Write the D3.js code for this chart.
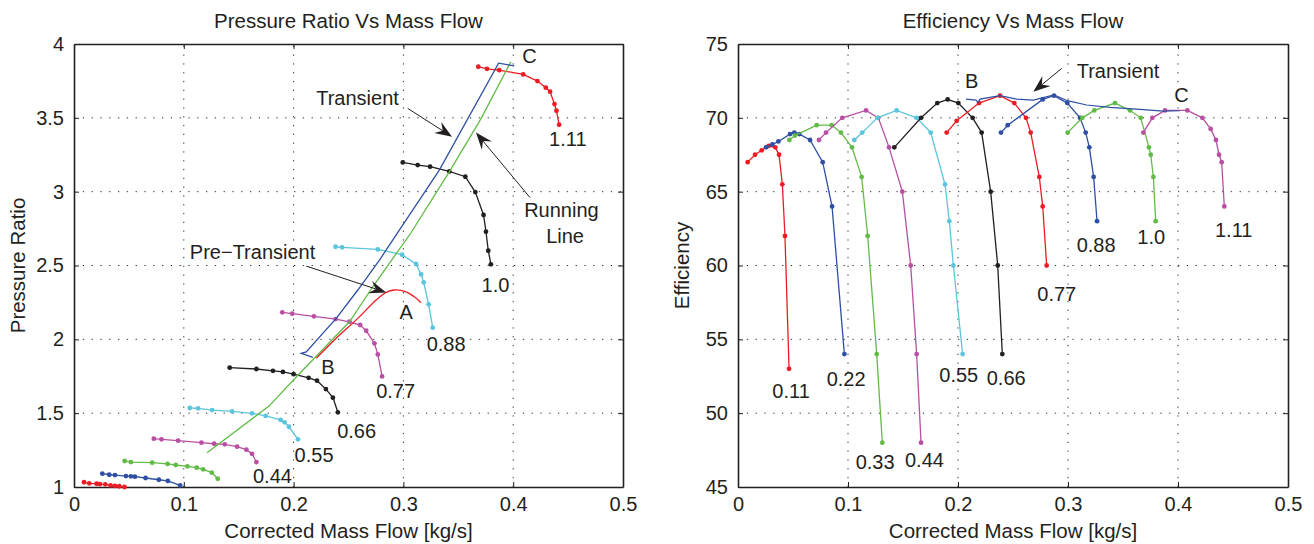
<!DOCTYPE html>
<html>
<head>
<meta charset="utf-8">
<script src="https://cdn.jsdelivr.net/npm/d3@7"></script>
<style>
  body { margin: 0; background: #fff; }
  text { font-family: "Liberation Sans", Arial, Helvetica, sans-serif; fill: #231f20; }
</style>
</head>
<body>
<div id="chart"></div>
<script>
// axis ticks
const massTicks = [0, 0.1, 0.2, 0.3, 0.4, 0.5];
const prTicks = [1, 1.5, 2, 2.5, 3, 3.5, 4];
const effTicks = [45, 50, 55, 60, 65, 70, 75];
const speedLabels = ["0.11", "0.22", "0.33", "0.44", "0.55", "0.66", "0.77", "0.88", "1.0", "1.11"];

// pressure ratio speed lines [mass flow, pressure ratio]
const pr011 = [[0.0091,1.032],[0.0139,1.025],[0.0206,1.022],[0.0236,1.02],[0.0285,1.018],[0.0333,1.011],[0.0373,1.007],[0.0412,1.005],[0.046,1.0]];
const pr022 = [[0.0258,1.09],[0.0321,1.083],[0.0373,1.081],[0.0473,1.074],[0.0518,1.072],[0.0555,1.07],[0.0652,1.061],[0.0773,1.049],[0.0855,1.041],[0.0967,1.011]];
const pr033 = [[0.0461,1.176],[0.0518,1.169],[0.0712,1.165],[0.0852,1.156],[0.0927,1.149],[0.1033,1.14],[0.1118,1.131],[0.1176,1.12],[0.1255,1.097],[0.1309,1.056]];
const pr044 = [[0.0727,1.327],[0.0797,1.323],[0.0948,1.314],[0.1161,1.3],[0.1276,1.293],[0.1373,1.289],[0.1485,1.273],[0.157,1.253],[0.1621,1.225],[0.1661,1.169]];
const pr055 = [[0.1055,1.535],[0.113,1.533],[0.1258,1.521],[0.1439,1.512],[0.1621,1.499],[0.1745,1.481],[0.1882,1.454],[0.1918,1.438],[0.1958,1.408],[0.204,1.323]];
const pr066 = [[0.1418,1.808],[0.1661,1.799],[0.1812,1.787],[0.1903,1.779],[0.2,1.764],[0.2137,1.739],[0.2213,1.72],[0.2294,1.663],[0.2358,1.605],[0.2403,1.506]];
const pr077 = [[0.1897,2.183],[0.1988,2.174],[0.2185,2.156],[0.2382,2.137],[0.2509,2.119],[0.2606,2.097],[0.2661,2.058],[0.2736,1.973],[0.2767,1.898],[0.2806,1.749]];
const pr088 = [[0.2382,2.627],[0.2442,2.623],[0.2767,2.609],[0.2988,2.573],[0.3115,2.51],[0.3161,2.44],[0.3185,2.386],[0.323,2.237],[0.3267,2.079]];
const pr100 = [[0.2994,3.198],[0.313,3.18],[0.3243,3.169],[0.3418,3.137],[0.3564,3.101],[0.3655,2.997],[0.373,2.842],[0.3752,2.729],[0.3773,2.6],[0.3797,2.508]];
const pr111 = [[0.3682,3.846],[0.3761,3.832],[0.3873,3.823],[0.4091,3.794],[0.4221,3.749],[0.4297,3.704],[0.4336,3.677],[0.4376,3.593],[0.4394,3.548],[0.4418,3.453]];

const prRunningLine = [[0.1212,1.232],[0.1776,1.548],[0.2033,1.752],[0.2509,2.119],[0.2721,2.356],[0.3068,2.72],[0.3418,3.134],[0.3711,3.5],[0.3979,3.88]];
const prTransient = [[0.2176,1.878],[0.207,1.905],[0.2115,1.915],[0.2388,2.142],[0.2585,2.334],[0.2782,2.537],[0.3327,3.146],[0.3867,3.87],[0.401,3.852]];
const prPreTransient = [[0.2206,1.871],[0.2388,2.007],[0.2585,2.142],[0.2752,2.266],[0.2842,2.318],[0.2918,2.334],[0.3024,2.322],[0.31,2.288],[0.316,2.248]];

// efficiency speed lines [mass flow, efficiency]
const ef011 = [[0.0088,67.0],[0.0155,67.5],[0.0215,67.8],[0.0279,68.1],[0.0339,68.0],[0.0373,67.5],[0.0403,65.5],[0.0427,62.0],[0.0464,53.0]];
const ef022 = [[0.0255,68.0],[0.0312,68.2],[0.0367,68.4],[0.0473,68.9],[0.0512,69.0],[0.0558,68.9],[0.0655,68.5],[0.077,67.0],[0.0855,64.0],[0.0967,54.0]];
const ef033 = [[0.0467,68.5],[0.0518,68.8],[0.0715,69.5],[0.0852,69.5],[0.0936,69.0],[0.1036,68.0],[0.1124,66.0],[0.1179,62.0],[0.1261,54.0],[0.1312,48.0]];
const ef044 = [[0.0736,68.5],[0.08,69.0],[0.0948,70.0],[0.1164,70.5],[0.1276,70.0],[0.1373,68.0],[0.1494,65.0],[0.157,60.0],[0.1624,54.0],[0.1664,48.0]];
const ef055 = [[0.1058,68.5],[0.113,69.0],[0.1267,70.0],[0.1442,70.5],[0.1624,70.0],[0.1752,69.0],[0.1882,65.5],[0.1921,63.0],[0.1958,60.0],[0.2042,54.0]];
const ef066 = [[0.1421,68.0],[0.1664,70.0],[0.1812,71.0],[0.1906,71.25],[0.2003,71.0],[0.2133,70.0],[0.2215,69.0],[0.2297,65.0],[0.2361,60.0],[0.2403,54.0]];
const ef077 = [[0.1897,69.0],[0.1988,69.8],[0.2191,71.0],[0.2382,71.5],[0.2512,71.0],[0.2618,70.0],[0.2661,69.0],[0.2739,66.0],[0.277,64.0],[0.2806,60.0]];
const ef088 = [[0.2391,69.0],[0.2452,69.5],[0.277,71.25],[0.2873,71.5],[0.2994,71.0],[0.3109,70.0],[0.3161,69.0],[0.3194,68.0],[0.3233,66.0],[0.3264,63.0]];
const ef100 = [[0.2997,69.0],[0.313,70.0],[0.3239,70.5],[0.3427,71.0],[0.3564,70.5],[0.3661,70.0],[0.3736,68.0],[0.3752,67.5],[0.3776,66.0],[0.3797,63.0]];
const ef111 = [[0.3685,69.0],[0.3767,70.0],[0.3882,70.5],[0.4085,70.5],[0.4221,70.0],[0.4297,69.25],[0.4345,68.5],[0.4373,67.5],[0.4397,67.0],[0.4421,64.0]];

const efTransient = [[0.2073,71.27],[0.2164,71.2],[0.2182,71.05],[0.22,71.27],[0.2382,71.5],[0.2533,71.27],[0.2685,71.2],[0.2873,71.55],[0.2994,71.16],[0.317,70.87],[0.3382,70.71],[0.3655,70.57],[0.3867,70.46],[0.4018,70.48]];

// speed label positions [mass flow, value]
const prLabelPos = [null, null, null, [0.163,1.025],[0.2009,1.171],[0.2397,1.33],[0.2752,1.6],[0.3212,1.923],[0.3712,2.318],[0.4327,3.309]];
const efLabelPos = [[0.0312,51.0],[0.0806,51.84],[0.107,46.2],[0.1518,46.33],[0.183,52.13],[0.2261,51.91],[0.2721,57.62],[0.3079,60.89],[0.363,61.46],[0.4336,61.91]];

const col = { red: "#ec1c24", blue: "#2e4fa3", green: "#62bb47", magenta: "#b84fa3", cyan: "#5bc5dc", black: "#231f20" };
const prColors = [col.red, col.blue, col.green, col.magenta, col.cyan, col.black, col.magenta, col.cyan, col.black, col.red];
const efColors = [col.red, col.blue, col.green, col.magenta, col.cyan, col.black, col.red, col.blue, col.green, col.magenta];

const prLines = [pr011, pr022, pr033, pr044, pr055, pr066, pr077, pr088, pr100, pr111];
const efLines = [ef011, ef022, ef033, ef044, ef055, ef066, ef077, ef088, ef100, ef111];

const width = 1314, height = 544;
const svg = d3.select("#chart").append("svg")
  .attr("width", width).attr("height", height);

function arrow(g, x1, y1, x2, y2) {
  const a = Math.atan2(y2 - y1, x2 - x1);
  const len = 17, half = 6.5, notch = 11;
  const pt = (d, o) => [x2 - d * Math.cos(a) - o * Math.sin(a), y2 - d * Math.sin(a) + o * Math.cos(a)];
  g.append("line")
    .attr("x1", x1).attr("y1", y1)
    .attr("x2", pt(notch, 0)[0]).attr("y2", pt(notch, 0)[1])
    .attr("stroke", "#231f20").attr("stroke-width", 1);
  g.append("path")
    .attr("d", "M" + [[x2, y2], pt(len, half), pt(notch, 0), pt(len, -half)].join("L") + "Z")
    .attr("fill", "#231f20");
}

function panel(opt) {
  const g = svg.append("g");
  const x = d3.scaleLinear().domain([0, 0.5]).range([opt.left, opt.right]);
  const y = d3.scaleLinear().domain(opt.yDomain).range([487, 44]);

  // dotted grid
  g.append("g").selectAll("line").data(massTicks.slice(1, -1)).enter().append("line")
    .attr("x1", d => x(d)).attr("x2", d => x(d)).attr("y1", y.range()[0]).attr("y2", y.range()[1])
    .attr("stroke", "#333").attr("stroke-width", 1).attr("stroke-dasharray", "1.3,7.5");
  g.append("g").selectAll("line").data(opt.yTicks.slice(1, -1)).enter().append("line")
    .attr("y1", d => y(d)).attr("y2", d => y(d)).attr("x1", opt.left).attr("x2", opt.right)
    .attr("stroke", "#333").attr("stroke-width", 1).attr("stroke-dasharray", "1.3,7.5");

  // axes with inward ticks on all four sides
  const ax = [
    g.append("g").attr("transform", `translate(0,487)`).call(d3.axisBottom(x).tickValues(massTicks).tickSizeInner(-5).tickSizeOuter(0).tickPadding(10).tickFormat(d => d === 0 ? "0" : d3.format(".1f")(d))),
    g.append("g").attr("transform", `translate(0,44)`).call(d3.axisTop(x).tickValues(massTicks).tickSizeInner(-5).tickSizeOuter(0).tickFormat("")),
    g.append("g").attr("transform", `translate(${opt.left},0)`).call(d3.axisLeft(y).tickValues(opt.yTicks).tickSizeInner(-5).tickSizeOuter(0).tickPadding(10).tickFormat(opt.yFormat)),
    g.append("g").attr("transform", `translate(${opt.right},0)`).call(d3.axisRight(y).tickValues(opt.yTicks).tickSizeInner(-5).tickSizeOuter(0).tickFormat(""))
  ];
  ax.forEach(a => {
    a.select(".domain").attr("stroke", "#231f20").attr("stroke-width", 1.6);
    a.selectAll(".tick line").attr("stroke", "#231f20").attr("stroke-width", 1);
    a.selectAll(".tick text").attr("font-size", 20).attr("fill", "#231f20")
      .style("font-family", '"Liberation Sans", Arial, sans-serif');
  });

  const line = d3.line().x(d => x(d[0])).y(d => y(d[1]));

  // speed lines with markers
  opt.lines.forEach((pts, i) => {
    g.append("path").datum(pts).attr("d", line)
      .attr("fill", "none").attr("stroke", opt.colors[i]).attr("stroke-width", 1.3);
    g.append("g").selectAll("circle").data(pts).enter().append("circle")
      .attr("cx", d => x(d[0])).attr("cy", d => y(d[1])).attr("r", 2.4)
      .attr("fill", opt.colors[i]);
    const p = opt.labelPos[i];
    if (p) g.append("text").attr("x", x(p[0])).attr("y", y(p[1])).attr("font-size", 20).text(speedLabels[i]);
  });

  opt.extra(g, x, y, line);

  // titles
  g.append("text").attr("x", (opt.left + opt.right) / 2).attr("y", 28)
    .attr("text-anchor", "middle").attr("font-size", 20.5).text(opt.title);
  g.append("text").attr("x", (opt.left + opt.right) / 2).attr("y", 538)
    .attr("text-anchor", "middle").attr("font-size", 20.5).text("Corrected Mass Flow [kg/s]");
  g.append("text").attr("transform", `translate(${opt.left - 49},${(44 + 487) / 2}) rotate(-90)`)
    .attr("text-anchor", "middle").attr("font-size", 20.5).text(opt.yLabel);
}

panel({
  left: 74, right: 623, yDomain: [1, 4], yTicks: prTicks,
  yFormat: d => String(d), title: "Pressure Ratio Vs Mass Flow", yLabel: "Pressure Ratio",
  lines: prLines, colors: prColors, labelPos: prLabelPos,
  extra: (g, x, y, line) => {
    g.append("path").datum(prRunningLine).attr("d", line)
      .attr("fill", "none").attr("stroke", col.green).attr("stroke-width", 1.3);
    g.append("path").datum(prTransient).attr("d", line)
      .attr("fill", "none").attr("stroke", col.blue).attr("stroke-width", 1.3);
    g.append("path").datum(prPreTransient).attr("d", line.curve(d3.curveCatmullRom))
      .attr("fill", "none").attr("stroke", col.red).attr("stroke-width", 1.3);
    line.curve(d3.curveLinear);
    const t = (s, p) => g.append("text").attr("x", x(p[0])).attr("y", y(p[1])).attr("font-size", 20).text(s);
    t("Transient", [0.2206, 3.586]);
    arrow(g, x(0.3039), y(3.564), x(0.3443), y(3.372));
    t("Running", [0.4100, 2.83]);
    t("Line", [0.4300, 2.655]);
    arrow(g, x(0.4153), y(2.96), x(0.3661), y(3.4));
    t("Pre\u2212Transient", [0.1055, 2.544]);
    arrow(g, x(0.2115), y(2.496), x(0.2843), y(2.318));
    t("A", [0.2964, 2.135]);
    t("B", [0.2252, 1.763]);
    t("C", [0.4082, 3.871]);
  }
});

panel({
  left: 738, right: 1288, yDomain: [45, 75], yTicks: effTicks,
  yFormat: d => String(d), title: "Efficiency Vs Mass Flow", yLabel: "Efficiency",
  lines: efLines, colors: efColors, labelPos: efLabelPos,
  extra: (g, x, y, line) => {
    g.append("path").datum(efTransient).attr("d", line)
      .attr("fill", "none").attr("stroke", col.blue).attr("stroke-width", 1.2);
    const t = (s, p) => g.append("text").attr("x", x(p[0])).attr("y", y(p[1])).attr("font-size", 20).text(s);
    t("Transient", [0.3079, 72.68]);
    arrow(g, x(0.2943), y(73.35), x(0.2685), y(71.77));
    t("B", [0.2064, 72.0]);
    t("C", [0.3966, 71.09]);
  }
});
</script>
</body>
</html>
